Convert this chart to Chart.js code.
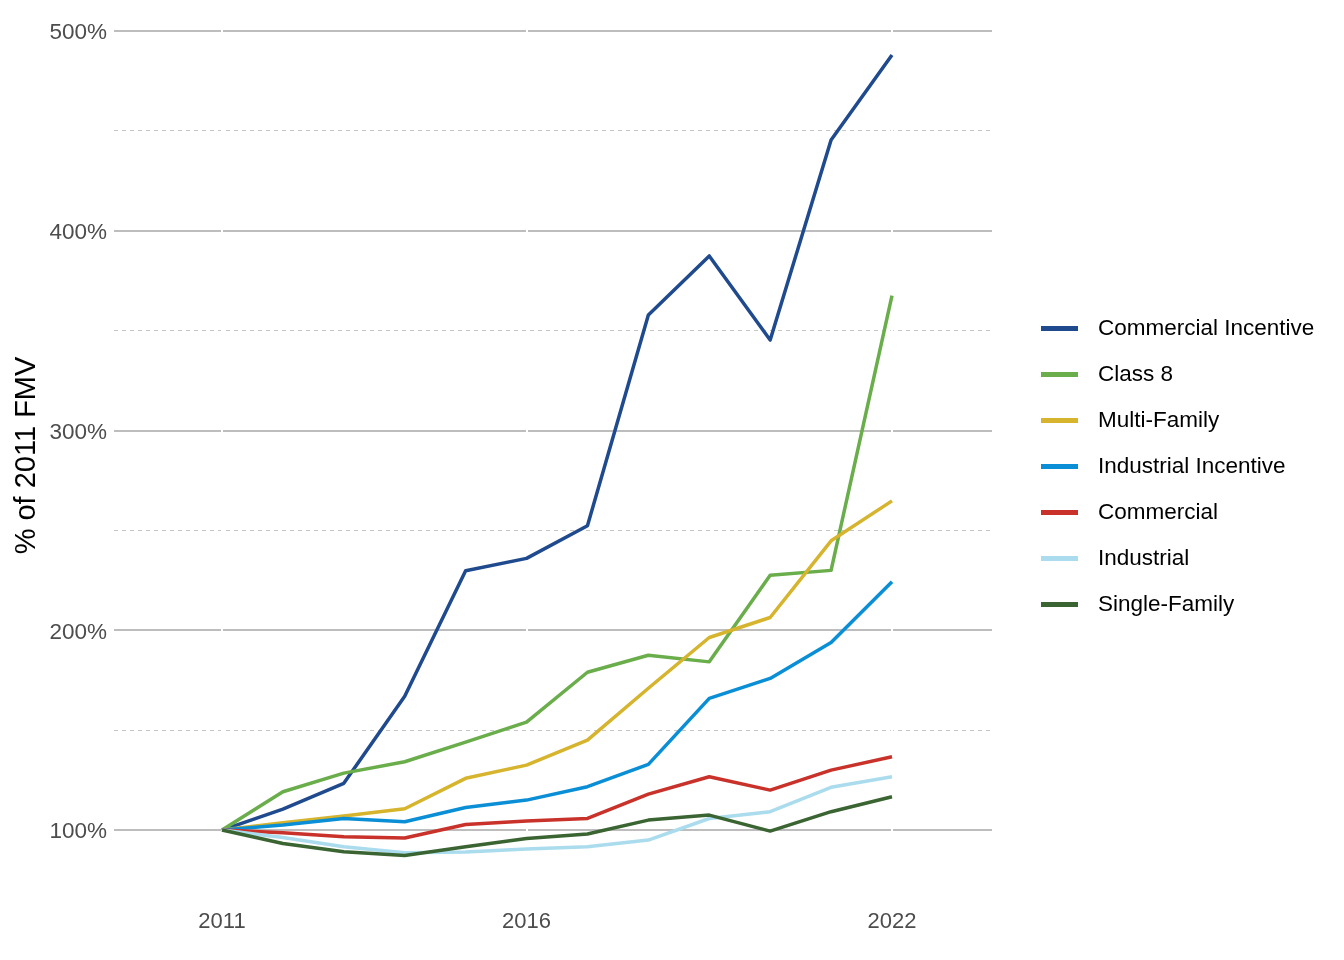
<!DOCTYPE html>
<html>
<head>
<meta charset="utf-8">
<title>% of 2011 FMV by property class</title>
<script src="https://cdn.jsdelivr.net/npm/chart.js@4.4.1/dist/chart.umd.min.js"></script>
<style>
  html, body { margin: 0; padding: 0; background: #ffffff; }
  #wrap { width: 1344px; height: 960px; position: relative; }
  #legend {
    position: absolute;
    left: 1041px;
    top: 305px;
    font-family: 'Liberation Sans', Arial, Helvetica, sans-serif;
    font-size: 22.5px;
    color: #000000;
  }
  #legend .item { display: flex; align-items: center; height: 46px; white-space: nowrap; }
  #legend .swatch { width: 37px; height: 5px; margin-right: 20px; flex-shrink: 0; }
</style>
</head>
<body>
<div id="wrap">
  <canvas id="chart"></canvas>
  <div id="legend"></div>
</div>
<script>
// Values (% of 2011 fair market value)
const years = [2011, 2012, 2013, 2014, 2015, 2016, 2017, 2018, 2019, 2020, 2021, 2022];

const commercialIncentive = [100, 110.5, 123.4, 167, 229.8, 236, 252.3, 357.8, 387.4, 345.3, 445.4, 488];
const class8              = [100, 119.2, 128.5, 134.2, 144, 154, 179, 187.5, 184.2, 227.6, 230, 367.5];
const multiFamily         = [100, 103.7, 107, 110.7, 125.9, 132.5, 145, 171, 196.4, 206.4, 244.8, 264.8];
const industrialIncentive = [100, 102.5, 105.8, 104.2, 111.3, 115, 121.7, 132.9, 165.9, 175.9, 193.9, 224.3];
const commercial          = [100, 98.7, 96.7, 96, 102.8, 104.5, 105.8, 118, 126.7, 120, 130, 136.7];
const industrial          = [100, 96.3, 91.7, 88.7, 89, 90.5, 91.7, 95, 105.8, 109.2, 121.4, 126.7];
const singleFamily        = [100, 93.3, 89.2, 87.3, 91.7, 95.8, 98, 105, 107.5, 99.5, 109.2, 116.7];

const seriesNames  = ['Commercial Incentive', 'Class 8', 'Multi-Family', 'Industrial Incentive',
                      'Commercial', 'Industrial', 'Single-Family'];
const seriesValues = [commercialIncentive, class8, multiFamily, industrialIncentive,
                      commercial, industrial, singleFamily];
const seriesColors = ['#1f4a8e', '#6aad4b', '#d6b42d', '#0a8fd6', '#c9322a', '#aadcee', '#3a6431'];

const xTicks      = [2011, 2016, 2022];
const yMajorTicks = [100, 200, 300, 400, 500];
const yMinorTicks = [150, 250, 350, 450];

const FONT = "'Liberation Sans', Arial, Helvetica, sans-serif";

const n = seriesNames.length;
const datasets = seriesNames.map((name, i) => ({
  label: name,
  data: seriesValues[i],
  borderColor: seriesColors[i],
  backgroundColor: seriesColors[i],
  borderWidth: 3.5,
  borderJoinStyle: 'round',
  pointRadius: 0,
  tension: 0,
  fill: false,
  order: n - i   // later series drawn on top, like ggplot
}));

// legend built as html next to the canvas, items taken from the chart itself
const htmlLegend = {
  id: 'htmlLegend',
  afterUpdate(chart) {
    const box = document.getElementById('legend');
    box.innerHTML = '';
    Chart.defaults.plugins.legend.labels.generateLabels(chart)
      .sort((a, b) => a.datasetIndex - b.datasetIndex)
      .forEach(item => {
        const row = document.createElement('div');
        row.className = 'item';
        const sw = document.createElement('span');
        sw.className = 'swatch';
        sw.style.background = item.strokeStyle;
        const txt = document.createElement('span');
        txt.textContent = item.text;
        row.appendChild(sw);
        row.appendChild(txt);
        box.appendChild(row);
      });
  }
};

new Chart(document.getElementById('chart'), {
  type: 'line',
  data: { labels: years, datasets },
  plugins: [htmlLegend],
  options: {
    responsive: true,
    maintainAspectRatio: false,
    animation: false,
    layout: { padding: { top: 15, right: 318, bottom: 0, left: 0 } },
    plugins: {
      tooltip: { enabled: false },
      legend: { display: false }
    },
    scales: {
      y: {
        type: 'linear',
        position: 'left',
        min: 67,
        max: 508,
        afterBuildTicks: s => { s.ticks = yMajorTicks.map(v => ({ value: v })); },
        afterFit: s => { s.width = 114; s.paddingTop = 0; s.paddingBottom = 0; },
        ticks: {
          font: { family: FONT, size: 22.5 },
          color: '#4d4d4d',
          padding: 7,
          labelOffset: 2,
          callback: v => v + '%'
        },
        grid: { color: '#bdbdbd', lineWidth: 2, drawTicks: false, z: -1 },
        border: { display: false },
        title: {
          display: true,
          text: '% of 2011 FMV',
          color: '#000000',
          font: { family: FONT, size: 29 },
          padding: { top: 10, bottom: 0 }
        }
      },
      yMinor: {
        type: 'linear',
        position: 'right',
        min: 67,
        max: 508,
        afterBuildTicks: s => { s.ticks = yMinorTicks.map(v => ({ value: v })); },
        afterFit: s => { s.width = 34; s.paddingTop = 0; s.paddingBottom = 0; },
        ticks: { display: false },
        grid: { color: '#c6c6c6', lineWidth: 1, drawTicks: false, z: -1 },
        border: { display: false, dash: [4, 4] }
      },
      x: {
        type: 'linear',
        min: 2009.227,
        max: 2023.642,
        afterBuildTicks: s => { s.ticks = xTicks.map(v => ({ value: v })); },
        afterFit: s => { s.height = 64; s.paddingLeft = 0; s.paddingRight = 0; },
        ticks: {
          font: { family: FONT, size: 22 },
          color: '#4d4d4d',
          padding: 13,
          maxRotation: 0,
          callback: v => String(v)
        },
        grid: { color: '#ffffff', lineWidth: 2, drawTicks: false, z: 0 },
        border: { display: false }
      }
    }
  }
});
</script>
</body>
</html>
